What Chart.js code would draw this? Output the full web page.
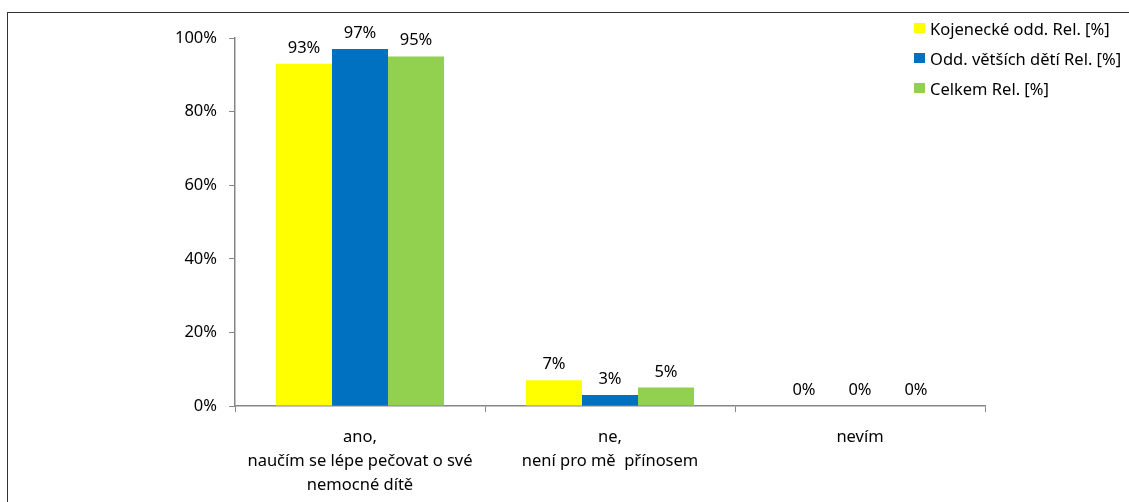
<!DOCTYPE html>
<html lang="cs">
<head>
<meta charset="utf-8">
<title>Přínos pro rodiče</title>
<script src="https://cdn.jsdelivr.net/npm/chart.js@4.4.1/dist/chart.umd.min.js"></script>
<style>
    html, body {
        margin: 0;
        padding: 0;
        background: #fff;
    }
    #wrap {
        position: relative;
        width: 1129px;
        height: 502px;
        overflow: hidden;
    }
    /* outer frame, only left and top edges are visible */
    #frame {
        position: absolute;
        left: 7px;
        top: 12px;
        width: 1200px;
        height: 600px;
        border-left: 1px solid #333;
        border-top: 1px solid #333;
    }
    #chart {
        position: absolute;
        left: 0;
        top: 0;
    }
    #legend {
        position: absolute;
        left: 914px;
        top: 13px;
        font-family: "Noto Sans", sans-serif;
        font-size: 16.5px;
        color: #000;
    }
    .legend-item {
        display: flex;
        align-items: center;
        height: 30px;
    }
    .legend-box {
        width: 11px;
        height: 10px;
        margin-right: 5px;
    }
</style>
</head>
<body>
<div id="wrap">
    <div id="frame"></div>
    <canvas id="chart" width="1129" height="502"></canvas>
    <div id="legend"></div>
</div>
<script>
// categories (multi-line x labels)
const categories = [
    ["ano,", "naučím se lépe pečovat o své", "nemocné dítě"],
    ["ne,", "není pro mě  přínosem"],
    ["nevím"]
];

// series values in percent
const kojeneckeValues = [93, 7, 0];
const vetsichDetiValues = [97, 3, 0];
const celkemValues = [95, 5, 0];

const seriesNames = ["Kojenecké odd. Rel. [%]", "Odd. větších dětí Rel. [%]", "Celkem Rel. [%]"];
const seriesColors = ["#FFFF00", "#0070C0", "#92D050"];

// y axis ticks
const yTicks = [0, 20, 40, 60, 80, 100];

const FONT = "Noto Sans";
const FONT_SIZE = 16.5;
const AXIS_GRAY = "#868686";

// value labels above bars
const valueLabels = {
    id: "valueLabels",
    afterDatasetsDraw(chart) {
        const ctx = chart.ctx;
        ctx.save();
        ctx.font = `${FONT_SIZE}px "${FONT}"`;
        ctx.fillStyle = "#000";
        ctx.textAlign = "center";
        ctx.textBaseline = "alphabetic";
        chart.data.datasets.forEach((ds, i) => {
            const meta = chart.getDatasetMeta(i);
            meta.data.forEach((bar, j) => {
                ctx.fillText(ds.data[j] + "%", bar.x, bar.y - 11);
            });
        });
        ctx.restore();
    }
};

const ctx = document.getElementById("chart").getContext("2d");

const chart = new Chart(ctx, {
    type: "bar",
    data: {
        labels: categories,
        datasets: [
            { label: seriesNames[0], data: kojeneckeValues, backgroundColor: seriesColors[0] },
            { label: seriesNames[1], data: vetsichDetiValues, backgroundColor: seriesColors[1] },
            { label: seriesNames[2], data: celkemValues, backgroundColor: seriesColors[2] }
        ]
    },
    options: {
        responsive: false,
        animation: false,
        layout: { padding: { left: 0, right: 144, top: 38, bottom: 0 } },
        datasets: {
            bar: {
                barPercentage: 1,
                categoryPercentage: 0.672,
                borderWidth: 0
            }
        },
        plugins: {
            legend: { display: false },
            tooltip: { enabled: false }
        },
        scales: {
            x: {
                offset: true,
                grid: {
                    display: true,
                    drawOnChartArea: false,
                    offset: true,
                    tickLength: 6,
                    color: AXIS_GRAY
                },
                border: { color: AXIS_GRAY, width: 1.5 },
                ticks: {
                    color: "#000",
                    font: { family: FONT, size: FONT_SIZE, lineHeight: "24px" },
                    padding: 13,
                    maxRotation: 0,
                    autoSkip: false
                },
                afterFit(scale) { scale.height = 96; }
            },
            y: {
                min: 0,
                max: 100,
                afterBuildTicks(scale) {
                    scale.ticks = yTicks.map(v => ({ value: v }));
                },
                grid: {
                    display: true,
                    drawOnChartArea: false,
                    tickLength: 6,
                    color: AXIS_GRAY
                },
                border: { color: AXIS_GRAY, width: 1.5 },
                ticks: {
                    color: "#000",
                    font: { family: FONT, size: FONT_SIZE },
                    padding: 12,
                    callback: (v) => v + "%"
                },
                afterFit(scale) { scale.width = 235; }
            }
        }
    },
    plugins: [valueLabels]
});

// html legend built from the datasets
const legendEl = document.getElementById("legend");
legendEl.innerHTML = chart.data.datasets
    .map(ds => `
        <div class="legend-item">
            <span class="legend-box" style="background:${ds.backgroundColor}"></span>
            <span>${ds.label}</span>
        </div>`)
    .join("");
</script>
</body>
</html>
